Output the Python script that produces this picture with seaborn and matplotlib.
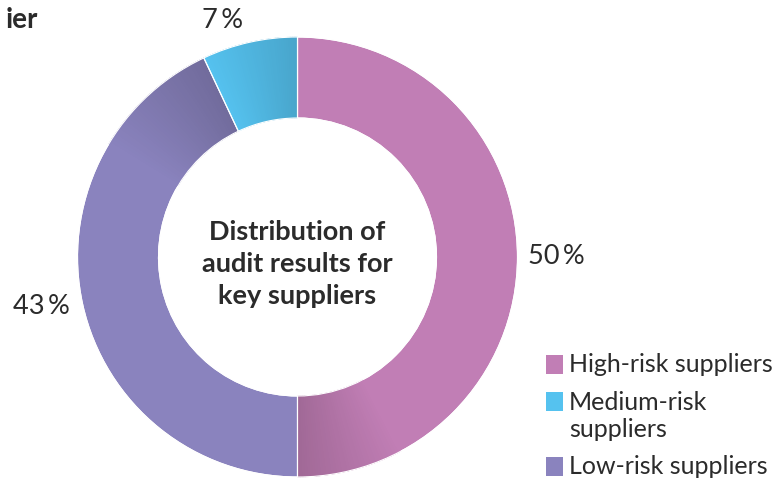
import numpy as np
import matplotlib
matplotlib.use("Agg")
import matplotlib.pyplot as plt
from matplotlib.patches import Wedge, Rectangle
import seaborn as sns

# data
categories = ["High-risk suppliers", "Medium-risk\nsuppliers", "Low-risk suppliers"]
shares = [50, 7, 43]
pct_labels = ["50\u2009%", "7\u2009%", "43\u2009%"]
center_title = "Distribution of\naudit results for\nkey suppliers"
title_tail = "ier"

# config
PINK = "#C17EB5"
BLUE = "#55C2EF"
PURPLE = "#8A83BE"
palette = {"High-risk suppliers": PINK, "Medium-risk\nsuppliers": BLUE,
           "Low-risk suppliers": PURPLE}
FONTS = ["Lato", "DejaVu Sans"]
W, H = 782, 480

sns.set_theme(style="white")
plt.rcParams["font.family"] = FONTS


def shade(color, f):
    c = np.array(matplotlib.colors.to_rgb(color))
    return c * (1 - f)


def gradient_end(ax, w, color, span, amax, n=40):
    # darkens the clockwise end of a wedge
    t1 = w.theta1
    span = min(span, w.theta2 - w.theta1)
    for k in range(n):
        a = t1 + span * k / n
        b = t1 + span * (k + 1) / n + 0.05
        f = amax * (1 - (k + 0.5) / n)
        col = shade(color, f)
        ax.add_patch(Wedge(w.center, w.r, a, b, width=w.width,
                           facecolor=col, edgecolor=col, linewidth=0.4, zorder=3))
    ax.add_patch(Wedge(w.center, w.r, w.theta1, w.theta2, width=w.width,
                       fill=False, edgecolor="white", linewidth=0.8, zorder=4))


fig = plt.figure(figsize=(W / 100, H / 100), dpi=100)
ax = fig.add_axes([0, 0, 1, 1])

# pie order clockwise from top: high, low, medium
order = [0, 2, 1]
cx, cy, R = 297.5, H - 257, 220
wedges, _ = ax.pie([shares[i] for i in order],
                   colors=[palette[categories[i]] for i in order],
                   startangle=90, counterclock=False,
                   center=(cx, cy), radius=R,
                   wedgeprops=dict(width=81, edgecolor="white", linewidth=0.8))

spans = [28, 34, 30]
amaxs = [0.17, 0.18, 0.15]
for w, i, sp, am in zip(wedges, order, spans, amaxs):
    gradient_end(ax, w, palette[categories[i]], sp, am)

ax.set_xlim(0, W)
ax.set_ylim(0, H)
ax.set_aspect("equal")
ax.axis("off")

# percentage labels
label_pos = {0: (556, 256), 1: (223, 20), 2: (41, 307)}
for i, (x, y) in label_pos.items():
    ax.text(x, H - y, pct_labels[i], ha="center", va="center",
            fontsize=19.5, color="#2b2b2b")

ax.text(cx, H - 264, center_title, ha="center", va="center",
        fontsize=19.5, fontweight="bold", color="#2b2b2b", linespacing=1.4)

# cut-off chart title (only its tail is visible)
ax.text(6, H - 20, title_tail, ha="left", va="center",
        fontsize=20, fontweight="bold", color="#2b2b2b")

# legend
leg_y = [364, 416, 466]
sq_y = [364, 401, 466]
for i, (y, sy) in enumerate(zip(leg_y, sq_y)):
    ax.add_patch(Rectangle((546, H - sy - 9.5), 17, 19,
                           facecolor=palette[categories[i]], edgecolor="none"))
    ax.text(569, H - y, categories[i], ha="left", va="center",
            fontsize=18, color="#2b2b2b", linespacing=1.2)

plt.savefig("out.png", dpi=100)
